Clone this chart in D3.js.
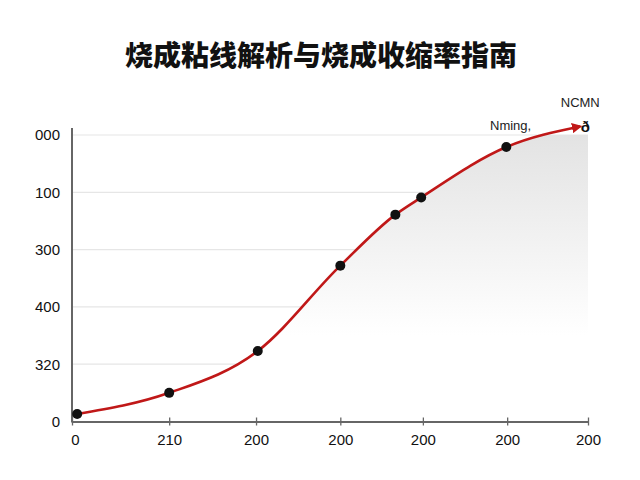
<!DOCTYPE html>
<html>
<head>
<meta charset="utf-8">
<script src="https://cdn.jsdelivr.net/npm/d3@7"></script>
<style>
  body { margin: 0; background: #fff; }
  text { font-family: "Liberation Sans", Arial, sans-serif; }
</style>
</head>
<body>
<div id="chart"></div>
<script>
// chart data
var titleText = "烧成粘线解析与烧成收缩率指南";
var xTickVals = [0, 1.13, 2.14, 3.12, 4.08, 5.06, 6];
var xTickLabels = ["0", "210", "200", "200", "200", "200", "200"];
var yTickVals = [0, 100, 200, 300, 400, 500];
var yTickLabels = ["0", "320", "400", "300", "100", "000"];
var seriesX = [0.06, 1.13, 2.16, 3.12, 3.76, 4.06, 5.05, 5.91];
var seriesY = [13, 50, 123, 272, 361, 391, 479, 515];
var seriesDot = [1, 1, 1, 1, 1, 1, 1, 0];
var noteLabels = ["Nming,", "NCMN", "ð"];

var width = 640, height = 480;
var margin = {top: 135, right: 52, bottom: 58, left: 72};

var svg = d3.select("#chart").append("svg")
    .attr("width", width).attr("height", height);

var x = d3.scaleLinear().domain([0, 6]).range([margin.left, width - margin.right]);
var y = d3.scaleLinear().domain([0, 500]).range([height - margin.bottom - 0.5, margin.top]);

var pts = seriesX.map(function (d, i) { return {x: d, y: seriesY[i], dot: seriesDot[i]}; });

// title
svg.append("text")
    .attr("x", 321).attr("y", 66)
    .attr("text-anchor", "middle")
    .style("font-family", "'Noto Sans CJK SC', sans-serif")
    .style("font-weight", "900")
    .style("font-size", "28px")
    .attr("fill", "#111")
    .text(titleText);

// gradient for area under curve
var defs = svg.append("defs");
var grad = defs.append("linearGradient")
    .attr("id", "areaGrad")
    .attr("gradientUnits", "userSpaceOnUse")
    .attr("x1", 0).attr("x2", 0)
    .attr("y1", y(500)).attr("y2", y(150));
grad.append("stop").attr("offset", "0%").attr("stop-color", "#e3e3e3");
grad.append("stop").attr("offset", "50%").attr("stop-color", "#f1f1f1");
grad.append("stop").attr("offset", "100%").attr("stop-color", "#ffffff");

defs.append("clipPath").attr("id", "plotClip")
  .append("rect")
    .attr("x", x(0)).attr("y", y(500))
    .attr("width", x(6) - x(0)).attr("height", y(0) - y(500));

defs.append("marker")
    .attr("id", "arrow")
    .attr("viewBox", "0 0 10 10")
    .attr("refX", 8).attr("refY", 5)
    .attr("markerWidth", 4).attr("markerHeight", 4)
    .attr("orient", "auto")
  .append("path")
    .attr("d", "M0,0 L10,5 L0,10 z")
    .attr("fill", "#c01818");

// gridlines
svg.append("g").selectAll("line")
    .data(yTickVals.slice(1))
    .enter().append("line")
    .attr("x1", x(0)).attr("x2", x(6))
    .attr("y1", function (d) { return y(d); })
    .attr("y2", function (d) { return y(d); })
    .attr("stroke", "#e6e6e6")
    .attr("stroke-width", 1.2);

// shaded area under the curve
var line = d3.line()
    .x(function (d) { return x(d.x); })
    .y(function (d) { return y(d.y); })
    .curve(d3.curveMonotoneX);

var last = pts[pts.length - 1];
var areaPath = line(pts) +
    "L" + x(6) + "," + y(last.y) +
    "L" + x(6) + "," + y(0) +
    "L" + x(pts[0].x) + "," + y(0) + "Z";

svg.append("path")
    .attr("d", areaPath)
    .attr("clip-path", "url(#plotClip)")
    .attr("fill", "url(#areaGrad)");

// axes
var xAxis = d3.axisBottom(x)
    .tickValues(xTickVals)
    .tickFormat(function (d, i) { return xTickLabels[i]; })
    .tickSizeInner(4).tickSizeOuter(0).tickPadding(6);

var xg = svg.append("g")
    .attr("transform", "translate(0," + y(0) + ")")
    .call(xAxis);
xg.select(".domain").attr("stroke", "#666").attr("stroke-width", 2);
xg.selectAll(".tick line").attr("stroke", "#666").attr("stroke-width", 1.3).attr("y1", -4);
xg.selectAll(".tick text")
    .style("font-size", "15px").attr("fill", "#111").attr("dy", "0.9em");
xg.select(".tick text").attr("dx", 3);

var yAxis = d3.axisLeft(y)
    .tickValues(yTickVals)
    .tickFormat(function (d, i) { return yTickLabels[i]; })
    .tickSize(0).tickPadding(12);

var yg = svg.append("g")
    .attr("transform", "translate(" + x(0) + ",0)")
    .call(yAxis);
yg.select(".domain").remove();
yg.selectAll(".tick text")
    .style("font-size", "15px").attr("fill", "#111");

svg.append("line")
    .attr("x1", x(0)).attr("x2", x(0))
    .attr("y1", y(0) + 1).attr("y2", y(500) - 7)
    .attr("stroke", "#666").attr("stroke-width", 2);

// curve
svg.append("path")
    .datum(pts)
    .attr("d", line)
    .attr("fill", "none")
    .attr("stroke", "#c01818")
    .attr("stroke-width", 2.6)
    .attr("marker-end", "url(#arrow)");

// points
svg.append("g").selectAll("circle")
    .data(pts.filter(function (d) { return d.dot; }))
    .enter().append("circle")
    .attr("cx", function (d) { return x(d.x); })
    .attr("cy", function (d) { return y(d.y); })
    .attr("r", 5)
    .attr("fill", "#111");

// notes near the end of the curve
svg.append("text")
    .attr("x", x(5.1)).attr("y", y(last.y) + 4)
    .attr("text-anchor", "middle")
    .style("font-size", "13px").attr("fill", "#222")
    .text(noteLabels[0]);

svg.append("text")
    .attr("x", x(last.x)).attr("y", y(last.y) - 19)
    .attr("text-anchor", "middle")
    .style("font-size", "13px").attr("fill", "#222")
    .text(noteLabels[1]);

svg.append("text")
    .attr("x", x(last.x) + 5).attr("y", y(last.y) + 6)
    .attr("text-anchor", "middle")
    .style("font-size", "15px").style("font-weight", "bold").attr("fill", "#111")
    .text(noteLabels[2]);
</script>
</body>
</html>
